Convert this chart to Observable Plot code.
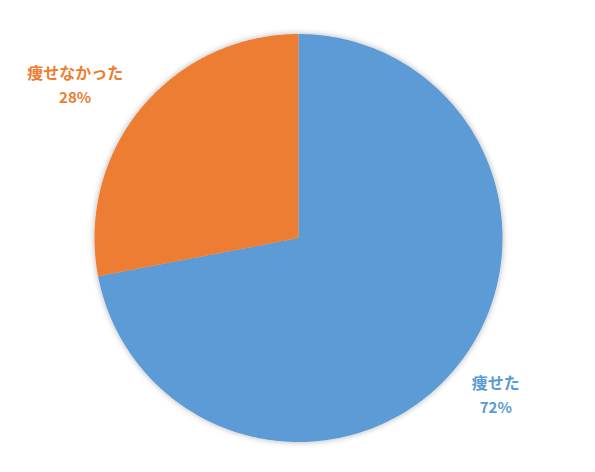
<!DOCTYPE html>
<html><head><meta charset="utf-8">
<script src="https://cdn.jsdelivr.net/npm/d3@7"></script>
<script src="https://cdn.jsdelivr.net/npm/@observablehq/plot@0.6"></script>
<style>html,body{margin:0;padding:0;background:#fff;}</style>
</head><body><div id="chart"></div>
<script>
const categories = ["痩せた", "痩せなかった"];
const values = [72, 28];
const colors = ["#5B9BD5", "#ED7D31"];

const W = 595, H = 472, R = 204, CX = 298, CY = 237.5;
const total = d3.sum(values);
let acc = 0;
const slices = categories.map((c, i) => {
  const a0 = acc / total * 2 * Math.PI;
  acc += values[i];
  const a1 = acc / total * 2 * Math.PI;
  return {cat: c, value: values[i], a0, a1, mid: (a0 + a1) / 2};
});
const pts = [];
for (const s of slices) {
  pts.push({cat: s.cat, x: 0, y: 0});
  const n = 240;
  for (let k = 0; k <= n; k++) {
    const a = s.a0 + (s.a1 - s.a0) * k / n;
    pts.push({cat: s.cat, x: Math.sin(a), y: Math.cos(a)});
  }
  pts.push({cat: s.cat, x: 0, y: 0});
}
const labels = slices.map(s => ({cat: s.cat, pct: Math.round(s.value / total * 100) + "%",
  x: Math.sin(s.mid) * 1.3, y: Math.cos(s.mid) * 1.3}));
const font = "'Noto Sans CJK JP', sans-serif";
const color = {domain: categories, range: colors};
const textMarks = [];
const offs = {"痩せた": [-7, -11], "痩せなかった": [-19, 17]};
for (const l of labels) {
  const [dx, dy] = offs[l.cat];
  textMarks.push(Plot.text([l], {x: "x", y: "y", text: "cat", fill: "cat", dx, dy: dy - 12.5,
    fontSize: 16, fontWeight: "bold", fontFamily: font}));
  textMarks.push(Plot.text([l], {x: "x", y: "y", text: "pct", fill: "cat", dx, dy: dy + 12.5,
    fontSize: 15, fontWeight: "bold", fontFamily: font}));
}
const plot = Plot.plot({
  width: W, height: H, margin: 0,
  x: {domain: [-CX / R, (W - CX) / R], range: [0, W], axis: null},
  y: {domain: [CY / R, -(H - CY) / R], range: [0, H], axis: null},
  color,
  style: {background: "#fff"},
  marks: [
    Plot.line(pts, {x: "x", y: "y", z: "cat", fill: "cat", stroke: "none"}),
    ...textMarks
  ]
});
const ns = "http://www.w3.org/2000/svg";
const defs = document.createElementNS(ns, "defs");
defs.innerHTML = '<filter id="sh" x="-10%" y="-10%" width="120%" height="120%"><feGaussianBlur in="SourceAlpha" stdDeviation="3"/><feOffset dx="0" dy="0" result="b"/><feComponentTransfer><feFuncA type="linear" slope="0.3"/></feComponentTransfer><feMerge><feMergeNode/><feMergeNode in="SourceGraphic"/></feMerge></filter>';
plot.insertBefore(defs, plot.firstChild);
const lg = plot.querySelector('g[aria-label="line"]');
if (lg) lg.setAttribute("filter", "url(#sh)");
document.getElementById("chart").appendChild(plot);
</script></body></html>
